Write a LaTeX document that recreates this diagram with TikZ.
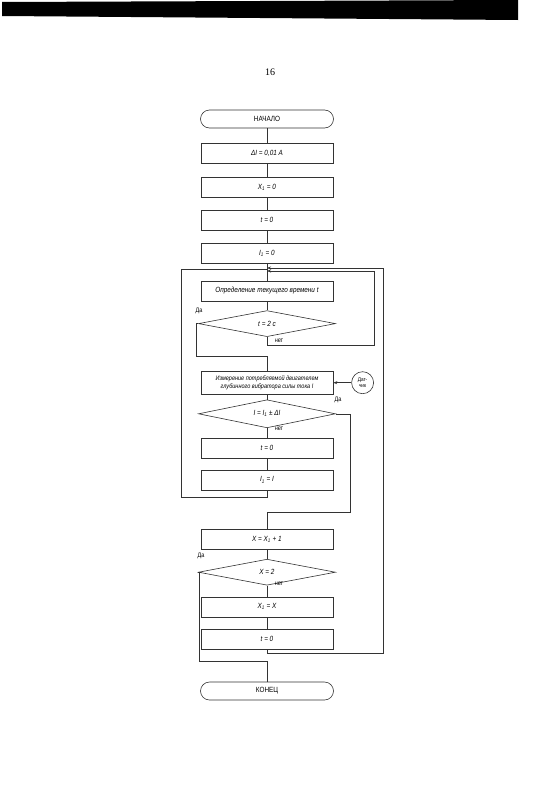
\documentclass[tikz,border=0pt]{standalone}
\usepackage{fontspec}
\setmainfont{Liberation Sans}
\newfontfamily\gostfont{Liberation Sans}[FakeStretch=0.85]
\newfontfamily\pagefont{Liberation Serif}
\usetikzlibrary{shapes.geometric, arrows.meta, positioning}
\tikzset{
  line/.style={draw=black!80, line width=0.6pt},
  arrow/.style={line, -{Stealth[length=4pt, width=3pt]}},
  block/.style={rectangle, line, minimum width=132pt, minimum height=20pt, inner sep=1pt, align=center, font=\gostfont\fontsize{7.5}{8.5}\selectfont\itshape},
  termin/.style={rectangle, rounded corners=9pt, line, minimum width=133pt, minimum height=18pt, font=\gostfont\fontsize{7.5}{8.5}\selectfont},
  decision/.style={diamond, aspect=6, line, minimum width=137pt, minimum height=26pt, inner sep=0pt, font=\gostfont\fontsize{7.5}{8.5}\selectfont\itshape},
  sensor/.style={circle, line, minimum size=22pt, inner sep=0pt, align=center, font=\gostfont\fontsize{5.5}{6}\selectfont},
  tag/.style={inner sep=0pt, font=\gostfont\fontsize{6.5}{7}\selectfont},
}
\begin{document}
\begin{tikzpicture}[x=1pt, y=-1pt]
\useasboundingbox (0,0) rectangle (544,787);
\fill[black] (2,2) -- (518,0) -- (518,20) -- (2,16) -- cycle;
\node[font=\pagefont\fontsize{10}{12}\selectfont] (page) at (270,72) {16};
% main column
\node[termin] (start) at (267,119) {НАЧАЛО};
\node[block, below=15pt of start] (dI) {ΔI = 0,01 A};
\node[block, below=13pt of dI] (xone) {X\textsubscript{1} = 0};
\node[block, below=12pt of xone] (tzero) {t = 0};
\node[block, below=13pt of tzero] (ione) {I\textsubscript{1} = 0};
\node[block, below=17pt of ione] (clock) {Определение текущего времени t};
\node[decision, below=9pt of clock] (tcheck) {t = 2 c};
\node[block, minimum height=23pt, below=34pt of tcheck, font=\gostfont\fontsize{6.5}{7.5}\selectfont\itshape] (meas) {Измерение потребляемой двигателем\\глубинного вибратора силы тока I};
\node[sensor, right=18pt of meas] (dat) {Дат-\\чик};
\node[decision, minimum height=28pt, below=5pt of meas] (icheck) {I = I\textsubscript{1} ± ΔI};
\node[block, below=10pt of icheck] (tzero2) {t = 0};
\node[block, below=11pt of tzero2] (ione2) {I\textsubscript{1} = I};
\node[block, below=39pt of ione2] (xinc) {X = X\textsubscript{1} + 1};
\node[decision, below=9pt of xinc] (xcheck) {X = 2};
\node[block, below=11pt of xcheck] (xset) {X\textsubscript{1} = X};
\node[block, below=12pt of xset] (tzero3) {t = 0};
\node[termin, below=32pt of tzero3] (stop) {КОНЕЦ};
% turning points
\coordinate (ya) at (196,356);
\coordinate (na) at (374,345);
\coordinate (nb) at (374,271);
\coordinate (la) at (181,497);
\coordinate (lb) at (181,269);
\coordinate (yb) at (350,512);
\coordinate (yc) at (199,661);
\coordinate (ra) at (383,653);
\coordinate (rb) at (383,268);
% connectors
\draw[line] (start) -- (dI);
\draw[line] (dI) -- (xone);
\draw[line] (xone) -- (tzero);
\draw[line] (tzero) -- (ione);
\draw[line] (ione) -- (clock);
\draw[line] (clock) -- (tcheck);
\draw[line] (tcheck.west) -| (ya) -| (meas.north);
\draw[arrow] (tcheck.south) |- (na) -- (nb) -- (nb -| ione.south);
\draw[arrow] (dat) -- (meas);
\draw[line] (meas) -- (icheck);
\draw[line] (icheck) -- (tzero2);
\draw[line] (tzero2) -- (ione2);
\draw[line] (ione2.south) |- (la) -- (lb) -- (lb -| ione.south);
\draw[line] (icheck.east) -| (yb) -| (xinc.north);
\draw[line] (xinc) -- (xcheck);
\draw[line] (xcheck) -- (xset);
\draw[line] (xset) -- (tzero3);
\draw[line] (xcheck.west) -| (yc) -| (stop.north);
\draw[arrow] (tzero3.south) |- (ra) -- (rb) -- (rb -| ione.south);
% branch labels
\node[tag] (yes1) at (199,311) {Да};
\node[tag] (no1) at (279,341) {нет};
\node[tag] (yes2) at (338,400) {Да};
\node[tag] (no2) at (279,429) {нет};
\node[tag] (yes3) at (201,556) {Да};
\node[tag] (no3) at (279,584) {нет};
\end{tikzpicture}
\end{document}
